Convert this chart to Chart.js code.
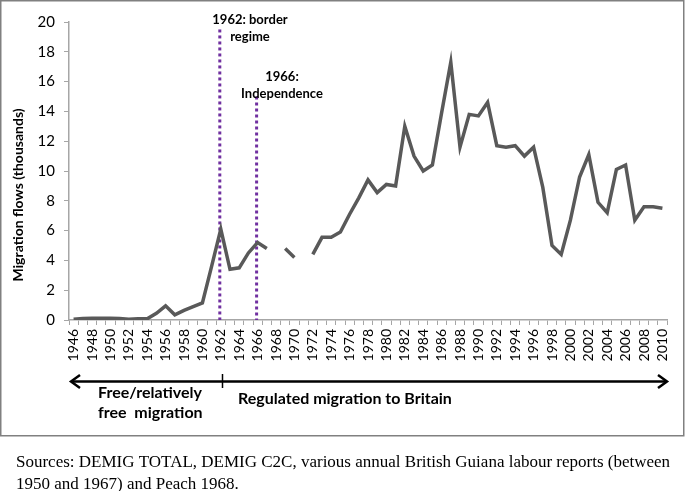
<!DOCTYPE html>
<html lang="en">
<head>
  <meta charset="UTF-8" />
  <title>Migration flows</title>
  <script src="https://cdn.jsdelivr.net/npm/chart.js"></script>
  <style>
    html, body { margin: 0; padding: 0; background: #fff; }
    #wrap { width: 685px; height: 491px; }
  </style>
</head>
<body>
  <div id="wrap"><canvas id="migrationChart" width="685" height="491"></canvas></div>

  <script>
    const years = ['1946','1947','1948','1949','1950','1951','1952','1953','1954','1955',
      '1956','1957','1958','1959','1960','1961','1962','1963','1964','1965',
      '1966','1967','1968','1969','1970','1971','1972','1973','1974','1975',
      '1976','1977','1978','1979','1980','1981','1982','1983','1984','1985',
      '1986','1987','1988','1989','1990','1991','1992','1993','1994','1995',
      '1996','1997','1998','1999','2000','2001','2002','2003','2004','2005',
      '2006','2007','2008','2009','2010'];

    // thousands, null = no data
    const flows = [0.05, 0.1, 0.12, 0.12, 0.12, 0.1, 0.05, 0.08, 0.08, 0.45,
      0.95, 0.35, 0.65, 0.9, 1.15, 3.6, 6.1, 3.4, 3.5, 4.5,
      5.2, 4.8, null, 4.8, 4.2, null, 4.4, 5.55, 5.55, 5.9,
      7.1, 8.2, 9.4, 8.55, 9.1, 9.0, 13.0, 11.0, 10.0, 10.4,
      13.9, 17.3, 11.6, 13.8, 13.7, 14.6, 11.7, 11.6, 11.7, 11.0,
      11.6, 8.9, 5.0, 4.4, 6.7, 9.6, 11.1, 7.9, 7.2, 10.1,
      10.4, 6.7, 7.6, 7.6, 7.5];

    const tickLabels = ['1946','1948','1950','1952','1954','1956','1958','1960','1962','1964',
      '1966','1968','1970','1972','1974','1976','1978','1980','1982','1984',
      '1986','1988','1990','1992','1994','1996','1998','2000','2002','2004',
      '2006','2008','2010'];

    const markerYears = ['1962', '1966'];
    const markerTops = [19.5, 15];

    const uiFont = 'Lato, "Open Sans", sans-serif';

    const extras = {
      id: 'extras',
      beforeDatasetsDraw(chart) {
        const ctx = chart.ctx;
        const x = chart.scales.x, y = chart.scales.y;
        ctx.save();
        ctx.strokeStyle = '#7030A0';
        ctx.lineWidth = 3;
        ctx.setLineDash([3, 3]);
        markerYears.forEach((yr, i) => {
          const px = x.getPixelForValue(years.indexOf(yr)) - 1;
          ctx.beginPath();
          ctx.moveTo(px, y.getPixelForValue(markerTops[i]));
          ctx.lineTo(px, y.getPixelForValue(0));
          ctx.stroke();
        });
        ctx.restore();
      },
      afterDraw(chart) {
        const ctx = chart.ctx;
        ctx.save();

        // frame
        ctx.strokeStyle = '#808080';
        ctx.lineWidth = 1.5;
        ctx.strokeRect(0.75, 0.75, 683, 435);

        // y title
        ctx.fillStyle = '#000';
        ctx.font = 'bold 14px ' + uiFont;
        ctx.textAlign = 'center';
        ctx.textBaseline = 'middle';
        ctx.save();
        ctx.translate(18, 195);
        ctx.rotate(-Math.PI / 2);
        ctx.fillText('Migration flows (thousands)', 0, 0);
        ctx.restore();

        // annotations
        ctx.font = 'bold 13px ' + uiFont;
        ctx.fillText('1962: border', 250, 20);
        ctx.fillText('regime', 250, 37);
        ctx.fillText('1966:', 282, 77);
        ctx.fillText('Independence', 282, 94);

        // period arrow
        ctx.strokeStyle = '#000';
        ctx.lineWidth = 2.5;
        ctx.beginPath();
        ctx.moveTo(71, 381.5);
        ctx.lineTo(667, 381.5);
        ctx.stroke();
        ctx.beginPath();
        ctx.moveTo(80, 375); ctx.lineTo(71, 381.5); ctx.lineTo(80, 388);
        ctx.moveTo(658, 375); ctx.lineTo(667, 381.5); ctx.lineTo(658, 388);
        ctx.stroke();
        ctx.lineWidth = 1.5;
        ctx.beginPath();
        ctx.moveTo(222.5, 374); ctx.lineTo(222.5, 388);
        ctx.stroke();

        ctx.font = 'bold 16px ' + uiFont;
        ctx.textAlign = 'left';
        ctx.fillText('Free/relatively', 98, 393);
        ctx.fillText('free  migration', 98, 413);
        ctx.fillText('Regulated migration to Britain', 238, 399);

        // source
        ctx.font = '17px "Liberation Serif", "Times New Roman", serif';
        ctx.fillText('Sources: DEMIG TOTAL, DEMIG C2C, various annual British Guiana labour reports (between', 16, 463);
        ctx.fillText('1950 and 1967) and Peach 1968.', 16, 485);
        ctx.restore();
      }
    };

    new Chart(document.getElementById('migrationChart'), {
      type: 'line',
      data: {
        labels: years,
        datasets: [{
          data: flows,
          borderColor: '#595959',
          borderWidth: 3.5,
          pointRadius: 0,
          tension: 0,
          spanGaps: false
        }]
      },
      options: {
        responsive: false,
        animation: false,
        layout: { padding: { left: 0, top: 22, right: 18, bottom: 121 } },
        plugins: { legend: { display: false }, tooltip: { enabled: false } },
        scales: {
          x: {
            offset: true,
            afterFit: (scale) => { scale.height = 50; },
            grid: { offset: true, drawOnChartArea: false, drawTicks: true, tickLength: 5, color: '#a6a6a6' },
            border: { color: '#a6a6a6', width: 1.5 },
            ticks: {
              autoSkip: false,
              minRotation: 90,
              maxRotation: 90,
              padding: 4,
              color: '#000',
              font: { family: uiFont, size: 14 },
              callback: function (value) {
                const lbl = this.getLabelForValue(value);
                return tickLabels.includes(lbl) ? lbl : '';
              }
            }
          },
          y: {
            min: 0,
            max: 20,
            afterFit: (scale) => { scale.width = 69; },
            grid: { drawOnChartArea: false, drawTicks: true, tickLength: 5, color: '#a6a6a6' },
            border: { color: '#a6a6a6', width: 1.5 },
            ticks: {
              stepSize: 2,
              padding: 9,
              color: '#000',
              font: { family: uiFont, size: 15 }
            }
          }
        }
      },
      plugins: [extras]
    });
  </script>
</body>
</html>
